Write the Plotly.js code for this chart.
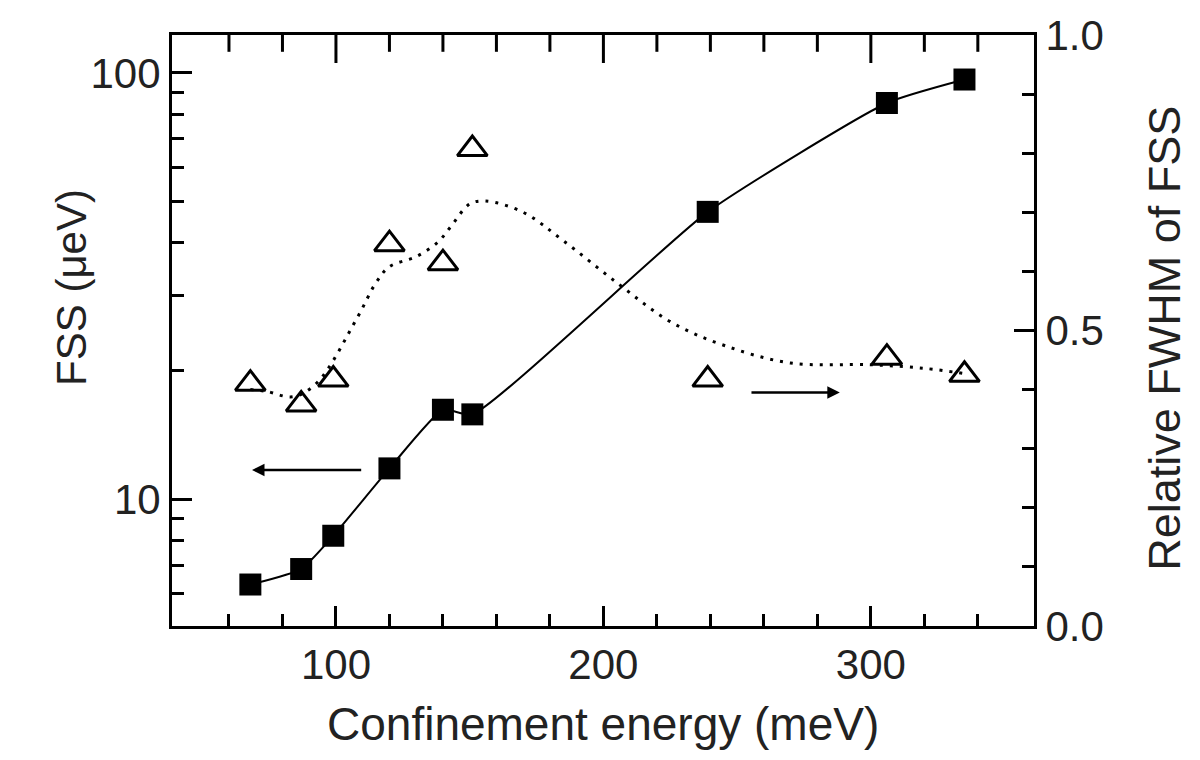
<!DOCTYPE html>
<html>
<head>
<meta charset="utf-8">
<script src="https://cdn.plot.ly/plotly-3.0.1.min.js"></script>
<style>html,body{margin:0;padding:0;background:#fff;}#chart{width:1200px;height:760px;}</style>
</head>
<body>
<div id="chart"></div>
<script>
// Confinement energy (meV)
const energy = [68, 87, 99, 120, 140, 151, 239, 306, 335];
// FSS (μeV), left log axis
const fss = [6.3, 6.85, 8.2, 11.8, 16.2, 15.8, 47.2, 85, 96.5];
// Relative FWHM of FSS, right axis
const fwhm = [0.41, 0.375, 0.417, 0.646, 0.614, 0.807, 0.417, 0.454, 0.425];
// Dotted guide curve for relative FWHM
const fitX = [68, 74, 84, 93, 108, 115, 120, 130, 138, 143, 150, 156, 170, 185, 205, 225, 245, 270, 300, 320, 335];
const fitY = [0.40, 0.397, 0.388, 0.412, 0.522, 0.581, 0.608, 0.625, 0.649, 0.676, 0.714, 0.719, 0.700, 0.652, 0.581, 0.515, 0.475, 0.445, 0.442, 0.436, 0.427];

const xMajor = [100, 200, 300];
const xLabels = ['100', '200', '300'];
const xMinor = [60,80,120,140,160,180,220,240,260,280,320,340];
const yMajor = [10, 100];
const yLabels = ['10', '100'];
const yMinor = [6,7,8,9,20,30,40,50,60,70,80,90];
const y2Major = [0, 0.5, 1];
const y2Labels = ['0.0', '0.5', '1.0'];
const y2Minor = [0.1,0.2,0.3,0.4,0.6,0.7,0.8,0.9];

const xRange = [38.7, 361];
const yRange = [0.702, 2.089];
const y2Range = [0, 1];

const fam = 'Liberation Sans, Arial, sans-serif';
const font = {family: fam, size: 42, color: '#222'};

// top-frame tick marks: vertical line markers at the top edge, clipped to the plot area
const topY = y2Range[1];
const topTicks = (vals, len) => ({
  x: vals, y: vals.map(() => topY), xaxis: 'x', yaxis: 'y2', type: 'scatter', mode: 'markers',
  cliponaxis: true, hoverinfo: 'skip',
  marker: {symbol: 'line-ns', size: 2 * len, color: '#000', line: {width: 3, color: '#000'}}
});

const traces = [
  {x: energy, y: fss, xaxis: 'x', yaxis: 'y', type: 'scatter', mode: 'lines+markers',
   line: {shape: 'spline', smoothing: 0.5, color: '#000', width: 2},
   marker: {symbol: 'square', size: 22, color: '#000'}},
  {x: fitX, y: fitY, xaxis: 'x', yaxis: 'y2', type: 'scatter', mode: 'lines',
   line: {shape: 'spline', smoothing: 1, color: '#000', width: 3, dash: '3px,7px'}},
  {x: energy, y: fwhm, xaxis: 'x', yaxis: 'y2', type: 'scatter', mode: 'markers',
   marker: {symbol: 'triangle-up-open', size: 26, color: '#000', line: {width: 3, color: '#000'}}},
  topTicks(xMajor, 20),
  topTicks(xMinor, 12)
];

const tickStyle = {ticks: 'inside', ticklen: 20, tickwidth: 3, tickcolor: '#000'};
const minorStyle = {ticks: 'inside', ticklen: 12, tickwidth: 3, tickcolor: '#000', tickmode: 'array'};

const layout = {
  width: 1200, height: 760,
  margin: {l: 172, r: 166, t: 35, b: 134},
  paper_bgcolor: '#fff', plot_bgcolor: '#fff',
  showlegend: false,
  font: font,
  xaxis: Object.assign({
    range: xRange, showgrid: false, zeroline: false,
    showline: true, linewidth: 3, linecolor: '#000', mirror: true,
    tickvals: xMajor, ticktext: xLabels,
    minor: Object.assign({tickvals: xMinor}, minorStyle),
    tickfont: font
  }, tickStyle),
  yaxis: Object.assign({
    type: 'log', range: yRange, showgrid: false, zeroline: false,
    showline: true, linewidth: 3, linecolor: '#000',
    tickvals: yMajor, ticktext: yLabels,
    minor: Object.assign({tickvals: yMinor}, minorStyle),
    tickfont: font
  }, tickStyle),
  yaxis2: Object.assign({
    overlaying: 'y', side: 'right', range: y2Range, showgrid: false, zeroline: false,
    showline: true, linewidth: 3, linecolor: '#000',
    tickvals: y2Major, ticktext: y2Labels,
    minor: Object.assign({tickvals: y2Minor}, minorStyle),
    tickfont: font
  }, tickStyle),
  annotations: [
    {xref: 'x', yref: 'y', axref: 'x', ayref: 'y', x: 68.6, y: 1.068, ax: 110, ay: 1.068,
     showarrow: true, arrowhead: 2, arrowsize: 1, arrowwidth: 2.5, arrowcolor: '#000', text: ''},
    {xref: 'x', yref: 'y2', axref: 'x', ayref: 'y2', x: 288.4, y: 0.395, ax: 254.8, ay: 0.395,
     showarrow: true, arrowhead: 2, arrowsize: 1, arrowwidth: 2.5, arrowcolor: '#000', text: ''},
    {xref: 'paper', yref: 'paper', x: 0.5, y: -0.165, text: 'Confinement energy (meV)',
     showarrow: false, font: {family: fam, size: 46, color: '#222'}, xanchor: 'center', yanchor: 'middle'},
    {xref: 'paper', yref: 'paper', x: -0.116, y: 0.572, text: 'FSS (μeV)', textangle: -90,
     showarrow: false, font: font, xanchor: 'center', yanchor: 'middle'},
    {xref: 'paper', yref: 'paper', x: 1.152, y: 0.486, text: 'Relative FWHM of FSS', textangle: -90,
     showarrow: false, font: {family: fam, size: 45, color: '#222'}, xanchor: 'center', yanchor: 'middle'}
  ]
};

Plotly.newPlot('chart', traces, layout, {displayModeBar: false, staticPlot: true});
</script>
</body>
</html>
